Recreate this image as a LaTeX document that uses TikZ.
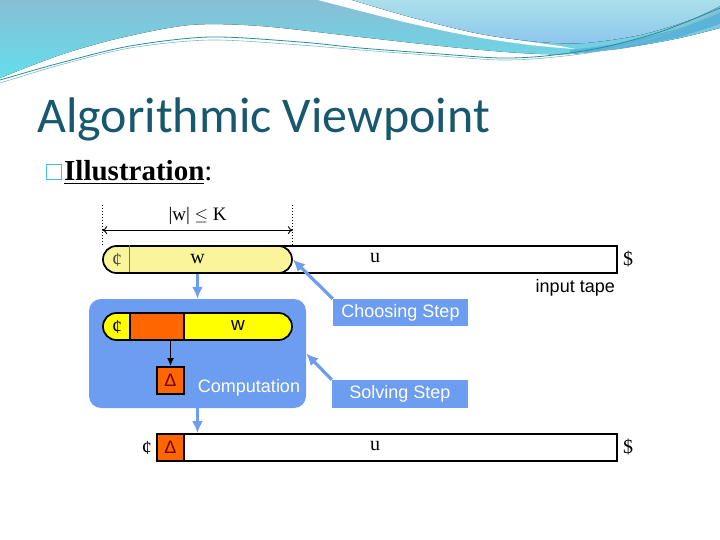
\documentclass[tikz,border=0pt]{standalone}
\usepackage{fontspec}
\setmainfont{Liberation Serif}
\setsansfont{Liberation Sans}
\newfontfamily\titlefont{Carlito}
\usetikzlibrary{positioning, calc, arrows.meta}

\definecolor{skyblue}{RGB}{108,157,240}
\definecolor{paleyellow}{RGB}{250,245,155}
\definecolor{tapeyellow}{RGB}{255,255,0}
\definecolor{tapeorange}{RGB}{255,102,0}
\definecolor{titleteal}{RGB}{24,88,110}
\definecolor{bulletcyan}{RGB}{70,190,210}
\definecolor{headgrey}{RGB}{136,190,213}
\definecolor{headcyan}{RGB}{100,222,235}
\definecolor{headlight}{RGB}{170,224,234}
\definecolor{headsky}{RGB}{140,198,238}
\definecolor{headband}{RGB}{90,180,218}
\definecolor{headline}{RGB}{40,140,160}
\definecolor{deltared}{RGB}{110,0,0}

\begin{document}
\begin{tikzpicture}[x=1pt, y=-1pt,
  cell/.style={draw, line width=1.7pt, inner sep=0pt, minimum height=27pt},
  blueptr/.style={-{Latex[length=12pt,width=11pt]}, line width=3.2pt, draw=skyblue},
  steplabel/.style={fill=skyblue, text=white, font=\sffamily\fontsize{18}{18}\selectfont, inner sep=0pt, minimum height=27pt},
  sym/.style={font=\fontsize{20}{20}\selectfont, inner sep=0pt}]
\useasboundingbox (0,0) rectangle (720,540);

% header waves
\fill[top color=headgrey, bottom color=headcyan] (0,0) -- plot[smooth] coordinates {(0,78) (60,55) (120,38) (190,25) (260,26) (360,37) (450,47) (520,53) (570,54) (630,47) (680,38) (720,28)} -- (720,0) -- cycle;
\fill[white] plot[smooth] coordinates {(318,0) (400,21) (470,36) (530,45) (575,49)} -- plot[smooth] coordinates {(560,46) (480,34) (410,17) (352,0)} -- cycle;
\fill[top color=headlight, bottom color=headsky] plot[smooth] coordinates {(352,0) (410,17) (480,34) (540,42) (585,43) (640,35) (690,20) (720,6)} -- (720,0) -- cycle;
\fill[headband] plot[smooth] coordinates {(570,50) (620,43) (680,28) (720,13)} -- (720,24) -- plot[smooth] coordinates {(680,37) (620,49) (570,53)} -- cycle;
\draw[headline, line width=0.8pt] plot[smooth] coordinates {(0,80) (60,63) (130,46) (210,37) (300,42) (360,48) (440,54) (500,58) (545,56) (600,48) (660,32) (720,8)};
\draw[headline!60, line width=0.6pt] plot[smooth] coordinates {(0,83) (60,65) (130,48) (210,40) (300,45) (360,50) (440,56) (500,60) (545,58) (600,51) (660,36) (720,12)};

% title and bullet
\node[anchor=base west, inner sep=0pt, text=titleteal, font=\titlefont\fontsize{50}{50}\selectfont] (title) at (37,133) {Algorithmic Viewpoint};
\node[draw=bulletcyan, line width=1.6pt, minimum size=15pt, inner sep=0pt] (bullet) at (54,172) {};
\node[anchor=base west, inner sep=0pt, font=\bfseries\fontsize{29}{29}\selectfont] (illus) at (64,181) {\underline{Illustration}{\mdseries:}};

% input tape
\node[cell, fill=white, minimum width=337pt] (tapeu) at (448.5,259.5) {};
\node[sym] (labu) at (375,258) {u};
\node[sym, right=5pt of tapeu] (dollar) {\$};
\node[cell, fill=paleyellow, rounded corners=13.5pt, minimum width=189pt] (tapew) at (197.5,259.5) {\fontsize{20}{20}\selectfont w};
\draw[line width=0.9pt, black!60!yellow] (tapew.north west) ++(27,0) -- ++(0,27);
\node[sym, text=black!70] (cent) at (117,259.5) {¢};
\node[anchor=base east, inner sep=0pt, font=\sffamily\fontsize{18}{18}\selectfont] (intape) at (615,292) {input tape};

% bound on w
\draw[dotted, line width=1pt] (tapew.north west) -- ++(0,-40);
\draw[dotted, line width=1pt] (tapew.north east) -- ++(0,-40);
\draw[{To[length=5pt,width=8pt]}-{To[length=5pt,width=8pt]}, line width=0.9pt] ($(tapew.north west)+(0,-15)$) -- node[above=5pt, inner sep=0pt, font=\fontsize{19}{19}\selectfont] (bound) {|w| $\leq$ K} ($(tapew.north east)+(0,-15)$);

% computation
\node[fill=skyblue, rounded corners=12pt, minimum width=217pt, minimum height=109pt, inner sep=0pt] (comp) at (197.5,353.5) {};
\node[cell, fill=tapeyellow, rounded corners=13.5pt, minimum width=189pt] (itape) at (197.5,326.5) {};
\node[cell, fill=tapeorange, minimum width=54pt] (head) at (157,326.5) {};
\node[sym] (icent) at (117,326.5) {¢};
\node[sym, font=\sffamily\fontsize{19}{19}\selectfont] (iw) at (238,325.5) {w};
\node[cell, fill=tapeorange, minimum width=27pt, text=deltared] (idelta) at (170.5,380.5) {\sffamily\fontsize{18}{18}\selectfont Δ};
\draw[-{Latex[length=8pt,width=7pt]}, line width=1.8pt] (idelta.north |- itape.south) -- (idelta.north);
\node[text=white, font=\sffamily\fontsize{18}{18}\selectfont, inner sep=0pt] (comptext) at (249,388) {Computation};

% step labels
\node[steplabel, minimum width=135pt] (choose) at (400.5,312.5) {Choosing Step};
\node[steplabel, minimum width=136pt, minimum height=28pt] (solve) at (400,394) {Solving Step};

% output tape
\node[cell, fill=white, minimum width=460pt] (btape) at (387,447.5) {};
\node[cell, fill=tapeorange, minimum width=27pt, text=deltared] (bdelta) at (170.5,447.5) {\sffamily\fontsize{18}{18}\selectfont Δ};
\node[sym] (bu) at (375,446) {u};
\node[sym, left=4pt of bdelta] (bcent) {¢};
\node[sym, right=5pt of btape] (bdollar) {\$};

% arrows
\draw[blueptr] (tapew.south) -- (comp.north);
\draw[blueptr] (comp.south) -- (comp.south |- btape.north);
\draw[blueptr] (choose.north west) -- (tapew.east);
\draw[blueptr] (solve.north west) -- (comp.east);
\end{tikzpicture}
\end{document}
